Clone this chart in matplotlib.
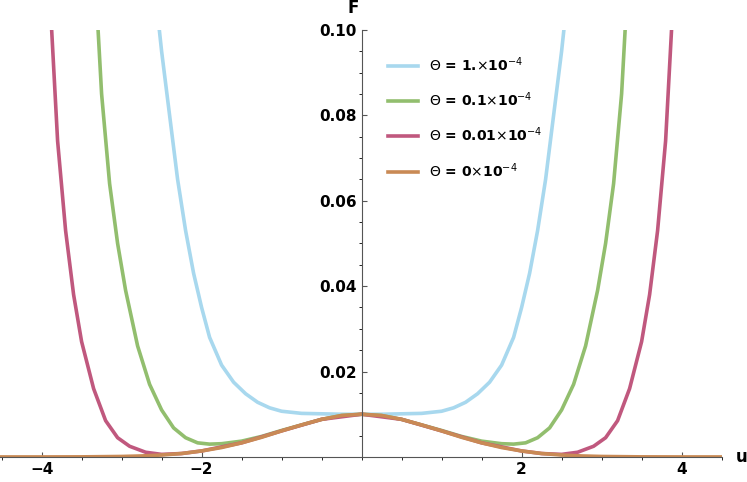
import numpy as np
import matplotlib.pyplot as plt
from matplotlib.ticker import MultipleLocator

# half-curves for u >= 0 (curves are symmetric)
u_orange = [0, 0.25, 0.5, 0.75, 1, 1.25, 1.5, 1.75, 2, 2.25, 2.5, 2.75, 3, 3.5, 4, 5]
f_orange = [0.01, 0.0097, 0.0088, 0.0075, 0.0061, 0.0046, 0.0033, 0.0022, 0.0014,
            0.0008, 0.00045, 0.00023, 0.00011, 0.00002, 0.0, 0.0]

u_blue = [0, 0.25, 0.5, 0.75, 1, 1.15, 1.3, 1.45, 1.6, 1.75, 1.9, 2.0, 2.1, 2.2,
          2.3, 2.4, 2.5, 2.54]
f_blue = [0.01, 0.01, 0.0101, 0.0102, 0.0107, 0.0115, 0.0128, 0.0148, 0.0175, 0.0215,
          0.028, 0.035, 0.043, 0.053, 0.065, 0.08, 0.095, 0.102]

u_green = [0, 0.25, 0.5, 0.75, 1, 1.25, 1.5, 1.75, 1.9, 2.05, 2.2, 2.35, 2.5, 2.65,
           2.8, 2.95, 3.05, 3.15, 3.25, 3.3]
f_green = [0.01, 0.0097, 0.0088, 0.0075, 0.0062, 0.0048, 0.0037, 0.0031, 0.003,
           0.0033, 0.0045, 0.0068, 0.011, 0.017, 0.026, 0.039, 0.05, 0.064, 0.085, 0.102]

u_red = [0, 0.5, 1, 1.5, 2, 2.25, 2.5, 2.7, 2.9, 3.05, 3.2, 3.35, 3.5, 3.6, 3.7,
         3.8, 3.88]
f_red = [0.01, 0.0088, 0.0061, 0.0033, 0.0014, 0.0008, 0.0006, 0.0011, 0.0025,
         0.0045, 0.0085, 0.016, 0.027, 0.038, 0.053, 0.074, 0.102]

labels = [r"$\Theta$ = 1.$\times$10$^{-4}$", r"$\Theta$ = 0.1$\times$10$^{-4}$",
          r"$\Theta$ = 0.01$\times$10$^{-4}$", r"$\Theta$ = 0$\times$10$^{-4}$"]
colors = ['#A8D8EE', '#92BE6E', '#C0587E', '#C98A55']


def mirror(u, f):
    u = np.array(u)
    f = np.array(f)
    return np.concatenate([-u[::-1], u[1:]]), np.concatenate([f[::-1], f[1:]])


fig = plt.figure(figsize=(7.47, 4.82), dpi=100)
ax = fig.add_axes([0.0, 0.052, 0.966, 0.886])

for (u, f), lab, c in zip([(u_blue, f_blue), (u_green, f_green), (u_red, f_red),
                           (u_orange, f_orange)], labels, colors):
    x, y = mirror(u, f)
    ax.plot(x, y, color=c, lw=2.6, label=lab, solid_joinstyle='round')

ax.set_xlim(-4.52, 4.5)
ax.set_ylim(0, 0.1)
ax.spines['left'].set_position(('data', 0))
ax.spines['bottom'].set_position(('data', 0))
ax.spines['right'].set_visible(False)
ax.spines['top'].set_visible(False)
for s in ('left', 'bottom'):
    ax.spines[s].set_color('#555555')
ax.set_xticks([-4, -2, 2, 4])
ax.set_yticks([0.02, 0.04, 0.06, 0.08, 0.1])
ax.set_yticklabels(['0.02', '0.04', '0.06', '0.08', '0.10'])
ax.xaxis.set_minor_locator(MultipleLocator(0.5))
ax.yaxis.set_minor_locator(MultipleLocator(0.005))
ax.tick_params(direction='in', labelsize=11, color='#555555')
for t in ax.get_xticklabels() + ax.get_yticklabels():
    t.set_fontweight('bold')

ax.text(4.68, 0, 'u', fontsize=12, fontweight='bold', va='center', ha='left')
ax.text(-0.1, 0.104, 'F', fontsize=12, fontweight='bold', ha='center', clip_on=False)

ax.legend(loc='upper left', bbox_to_anchor=(0.52, 0.97), frameon=False,
          prop={'weight': 'bold', 'size': 10}, handlelength=2.2, labelspacing=1.2)

fig.savefig('out.png')
